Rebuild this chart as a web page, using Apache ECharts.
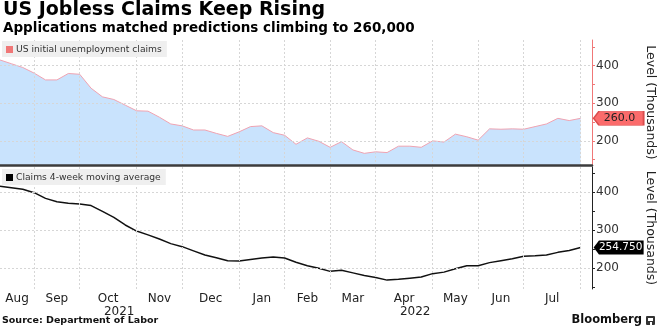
<!DOCTYPE html>
<html>
<head>
<meta charset="utf-8">
<script src="https://cdn.jsdelivr.net/npm/echarts@6/dist/echarts.min.js"></script>
<style>
  html, body { margin: 0; padding: 0; background: #fff; }
  #chart { width: 660px; height: 330px; }
</style>
</head>
<body>
<div id="chart"></div>
<script>
// Weekly observation dates (Fridays)
const weekDates = [
  '2021-08-06','2021-08-13','2021-08-20','2021-08-27',
  '2021-09-03','2021-09-10','2021-09-17','2021-09-24',
  '2021-10-01','2021-10-08','2021-10-15','2021-10-22','2021-10-29',
  '2021-11-05','2021-11-12','2021-11-19','2021-11-26',
  '2021-12-03','2021-12-10','2021-12-17','2021-12-24','2021-12-31',
  '2022-01-07','2022-01-14','2022-01-21','2022-01-28',
  '2022-02-04','2022-02-11','2022-02-18','2022-02-25',
  '2022-03-04','2022-03-11','2022-03-18','2022-03-25',
  '2022-04-01','2022-04-08','2022-04-15','2022-04-22','2022-04-29',
  '2022-05-06','2022-05-13','2022-05-20','2022-05-27',
  '2022-06-03','2022-06-10','2022-06-17','2022-06-24',
  '2022-07-01','2022-07-08','2022-07-15','2022-07-22','2022-07-29'
];
// The time axis runs one week past the last observation
const axisDates = weekDates.concat(['2022-08-05']);

// US initial unemployment claims, thousands
const initialClaims = [
  415, 405, 395, 380,
  362, 362, 379, 377,
  340, 317, 310, 295, 280,
  279, 263, 245, 240,
  229, 229, 220, 212, 224,
  238, 240, 222, 215,
  191, 208, 199, 183,
  198, 176, 167, 171,
  169, 186, 186, 183, 200,
  197, 218, 211, 202,
  232, 231, 232, 231,
  238, 245, 260, 254, 260
];

// Claims 4-week moving average, thousands
const movingAverage = [
  416, 412, 408, 399,
  384, 375, 371, 369,
  365, 350, 334, 314, 298,
  288, 277, 265, 257,
  246, 235, 228, 220, 219,
  223, 227, 230, 227,
  216, 207, 200, 192,
  195, 188, 181, 176,
  169, 171, 174, 177, 186,
  190, 199, 207, 207,
  215, 220, 225, 232,
  233, 235, 242, 247, 254.75
];

// Right-axis ticks and labels (thousands)
const levelTicks = [150, 200, 250, 300, 350, 400, 450];
const levelLabels = [200, 300, 400];

// Year captions shown under the first month label of each year
const yearCaptions = { '2021-10': '2021', '2022-04': '2022' };

const monthAbbr = ['Jan','Feb','Mar','Apr','May','Jun','Jul','Aug','Sep','Oct','Nov','Dec'];

// Last week of each month gets a vertical grid line
const monthEnds = [];
weekDates.forEach((d, i) => {
  const next = weekDates[i + 1];
  if (!next || next.slice(0, 7) !== d.slice(0, 7)) monthEnds.push(i);
});
// Month labels sit midway between month boundaries
const monthCenters = [];
const monthKeys = [];
monthEnds.forEach((e, k) => {
  const s = k === 0 ? 0 : monthEnds[k - 1];
  monthCenters.push((s + e) / 2);
  monthKeys.push(weekDates[e].slice(0, 7));
});

const FONT = 'DejaVu Sans';
const lastIdx = weekDates.length - 1;
const claimsRed = '#f07777';

const tagPath = 'path://M0,7 L6,0 L56,0 L56,14 L6,14 Z';

const chart = echarts.init(document.getElementById('chart'), null, { renderer: 'canvas' });

const gridLineStyle = { color: '#d6d6d6', width: 1, type: [2, 2] };

const option = {
  animation: false,
  textStyle: { fontFamily: FONT },
  title: {
    text: 'US Jobless Claims Keep Rising',
    subtext: 'Applications matched predictions climbing to 260,000',
    left: 1, top: 0, padding: [1, 2], itemGap: 1,
    textStyle: { fontFamily: FONT, fontWeight: 'bold', fontSize: 19, color: '#000' },
    subtextStyle: { fontFamily: FONT, fontWeight: 'bold', fontSize: 13.5, color: '#000' }
  },
  legend: [
    {
      data: [{ name: 'US initial unemployment claims', itemStyle: { color: claimsRed } }],
      left: 2, top: 41, icon: 'rect', itemWidth: 7, itemHeight: 7, z: 10,
      backgroundColor: '#efefef', padding: [4, 5, 3, 4],
      textStyle: { fontFamily: FONT, fontSize: 9.2, color: '#333', padding: [0, 0, 0, -2] },
      selectedMode: false
    },
    {
      data: [{ name: 'Claims 4-week moving average', itemStyle: { color: '#000' } }],
      left: 2, top: 169, icon: 'rect', itemWidth: 7, itemHeight: 7, z: 10,
      backgroundColor: '#efefef', padding: [4, 5, 3, 4],
      textStyle: { fontFamily: FONT, fontSize: 9.2, color: '#333', padding: [0, 0, 0, -2] },
      selectedMode: false
    }
  ],
  grid: [
    { left: 0, right: 68, top: 40, height: 125, outerBoundsMode: 'none', containLabel: false },
    { left: 0, right: 68, top: 167, height: 122, outerBoundsMode: 'none', containLabel: false }
  ],
  xAxis: [
    {
      gridIndex: 0, type: 'category', data: axisDates, boundaryGap: false, z: 5,
      axisLine: { show: true, onZero: false, lineStyle: { color: '#3c3c3c', width: 2.5 } },
      axisTick: { show: false }, axisLabel: { show: false },
      splitLine: { show: true, interval: (i) => monthEnds.includes(i), lineStyle: gridLineStyle }
    },
    {
      gridIndex: 1, type: 'category', data: axisDates, boundaryGap: false, z: 5,
      axisLine: { show: false, onZero: false }, axisTick: { show: false }, axisLabel: { show: false },
      splitLine: { show: true, interval: (i) => monthEnds.includes(i), lineStyle: gridLineStyle }
    },
    {
      // month captions
      gridIndex: 1, type: 'value', min: 0, max: axisDates.length - 1, position: 'bottom',
      axisLine: { show: false, onZero: false }, axisTick: { show: false }, splitLine: { show: false },
      axisLabel: {
        customValues: monthCenters,
        color: '#222', fontSize: 12, margin: 3, lineHeight: 13, fontFamily: FONT,
        formatter: (v) => {
          const k = monthCenters.findIndex(c => Math.abs(c - v) < 1e-6);
          if (k < 0) return '';
          const key = monthKeys[k];
          const name = monthAbbr[parseInt(key.slice(5, 7), 10) - 1];
          return yearCaptions[key] ? name + '\n{y|' + yearCaptions[key] + '}' : name;
        },
        rich: { y: { fontSize: 12, color: '#222', lineHeight: 13, padding: [0, 0, 0, 22], fontFamily: FONT } }
      }
    }
  ],
  yAxis: [
    {
      gridIndex: 0, type: 'value', position: 'right', min: 136, max: 468,
      axisLine: { show: true, onZero: false, lineStyle: { color: claimsRed, width: 1 } },
      axisTick: { show: true, customValues: levelTicks, length: 3, lineStyle: { color: claimsRed } },
      axisLabel: { customValues: levelLabels, color: '#333', fontSize: 12, margin: 4, fontFamily: FONT },
      splitLine: { show: false },
      name: 'Level (Thousands)', nameLocation: 'middle', nameRotate: -90, nameGap: 52,
      nameTextStyle: { fontSize: 12.5, color: '#222', fontFamily: FONT }
    },
    {
      gridIndex: 1, type: 'value', position: 'right', min: 145.6, max: 466.6,
      axisLine: { show: true, onZero: false, lineStyle: { color: '#222', width: 1 } },
      axisTick: { show: true, customValues: levelTicks, length: 3, lineStyle: { color: '#222' } },
      axisLabel: { customValues: levelLabels, color: '#333', fontSize: 12, margin: 4, fontFamily: FONT },
      splitLine: { show: false },
      name: 'Level (Thousands)', nameLocation: 'middle', nameRotate: -90, nameGap: 52,
      nameTextStyle: { fontSize: 12.5, color: '#222', fontFamily: FONT }
    }
  ],
  series: [
    {
      name: 'US initial unemployment claims',
      type: 'line', xAxisIndex: 0, yAxisIndex: 0,
      data: initialClaims, showSymbol: false, symbol: 'none',
      lineStyle: { color: '#f0a3b1', width: 1 },
      itemStyle: { color: claimsRed },
      areaStyle: { color: '#c9e3fd', opacity: 1, origin: 'start' },
      markLine: {
        silent: true, symbol: 'none', label: { show: false }, z: 4,
        lineStyle: gridLineStyle,
        data: levelLabels.map(v => ({ yAxis: v }))
      },
      markPoint: {
        silent: true, z: 6,
        data: [{ coord: [lastIdx, initialClaims[lastIdx]], value: initialClaims[lastIdx] }],
        symbol: tagPath, symbolKeepAspect: false, symbolSize: [50, 14], symbolOffset: [38, 0],
        itemStyle: { color: '#fb6b6b', borderColor: '#d94b4b', borderWidth: 1 },
        label: {
          show: true, position: 'inside', offset: [1, 0], color: '#222', fontSize: 11, fontFamily: FONT,
          formatter: (p) => Number(p.value).toFixed(1)
        }
      }
    },
    {
      name: 'Claims 4-week moving average',
      type: 'line', xAxisIndex: 1, yAxisIndex: 1,
      data: movingAverage, showSymbol: false, symbol: 'none',
      lineStyle: { color: '#111', width: 1.5 },
      itemStyle: { color: '#000' },
      markLine: {
        silent: true, symbol: 'none', label: { show: false }, z: 4,
        lineStyle: gridLineStyle,
        data: levelLabels.map(v => ({ yAxis: v }))
      },
      markPoint: {
        silent: true, z: 6,
        data: [{ coord: [lastIdx, movingAverage[lastIdx]], value: movingAverage[lastIdx] }],
        symbol: tagPath, symbolKeepAspect: false, symbolSize: [50, 14], symbolOffset: [38, 0],
        itemStyle: { color: '#000' },
        label: {
          show: true, position: 'inside', offset: [2, 0], color: '#fff', fontSize: 10.5, fontFamily: FONT,
          formatter: (p) => Number(p.value).toFixed(3)
        }
      }
    }
  ],
  graphic: [
    {
      type: 'text', left: 2, top: 316,
      style: { text: 'Source: Department of Labor', fontFamily: FONT, fontWeight: 'bold', fontSize: 9.5, fill: '#111' }
    },
    {
      type: 'text', right: 18, top: 314,
      style: { text: 'Bloomberg', fontFamily: FONT, fontWeight: 'bold', fontSize: 11.5, fill: '#111' }
    },
    {
      type: 'group', right: 5, top: 316,
      children: [
        { type: 'rect', shape: { x: 0, y: 0, width: 9, height: 9, r: 1 }, style: { fill: '#333' } },
        { type: 'rect', shape: { x: 2, y: 2, width: 5, height: 3 }, style: { fill: '#fff' } },
        { type: 'rect', shape: { x: 4, y: 6, width: 2, height: 3 }, style: { fill: '#fff' } }
      ]
    }
  ]
};

chart.setOption(option);
</script>
</body>
</html>
